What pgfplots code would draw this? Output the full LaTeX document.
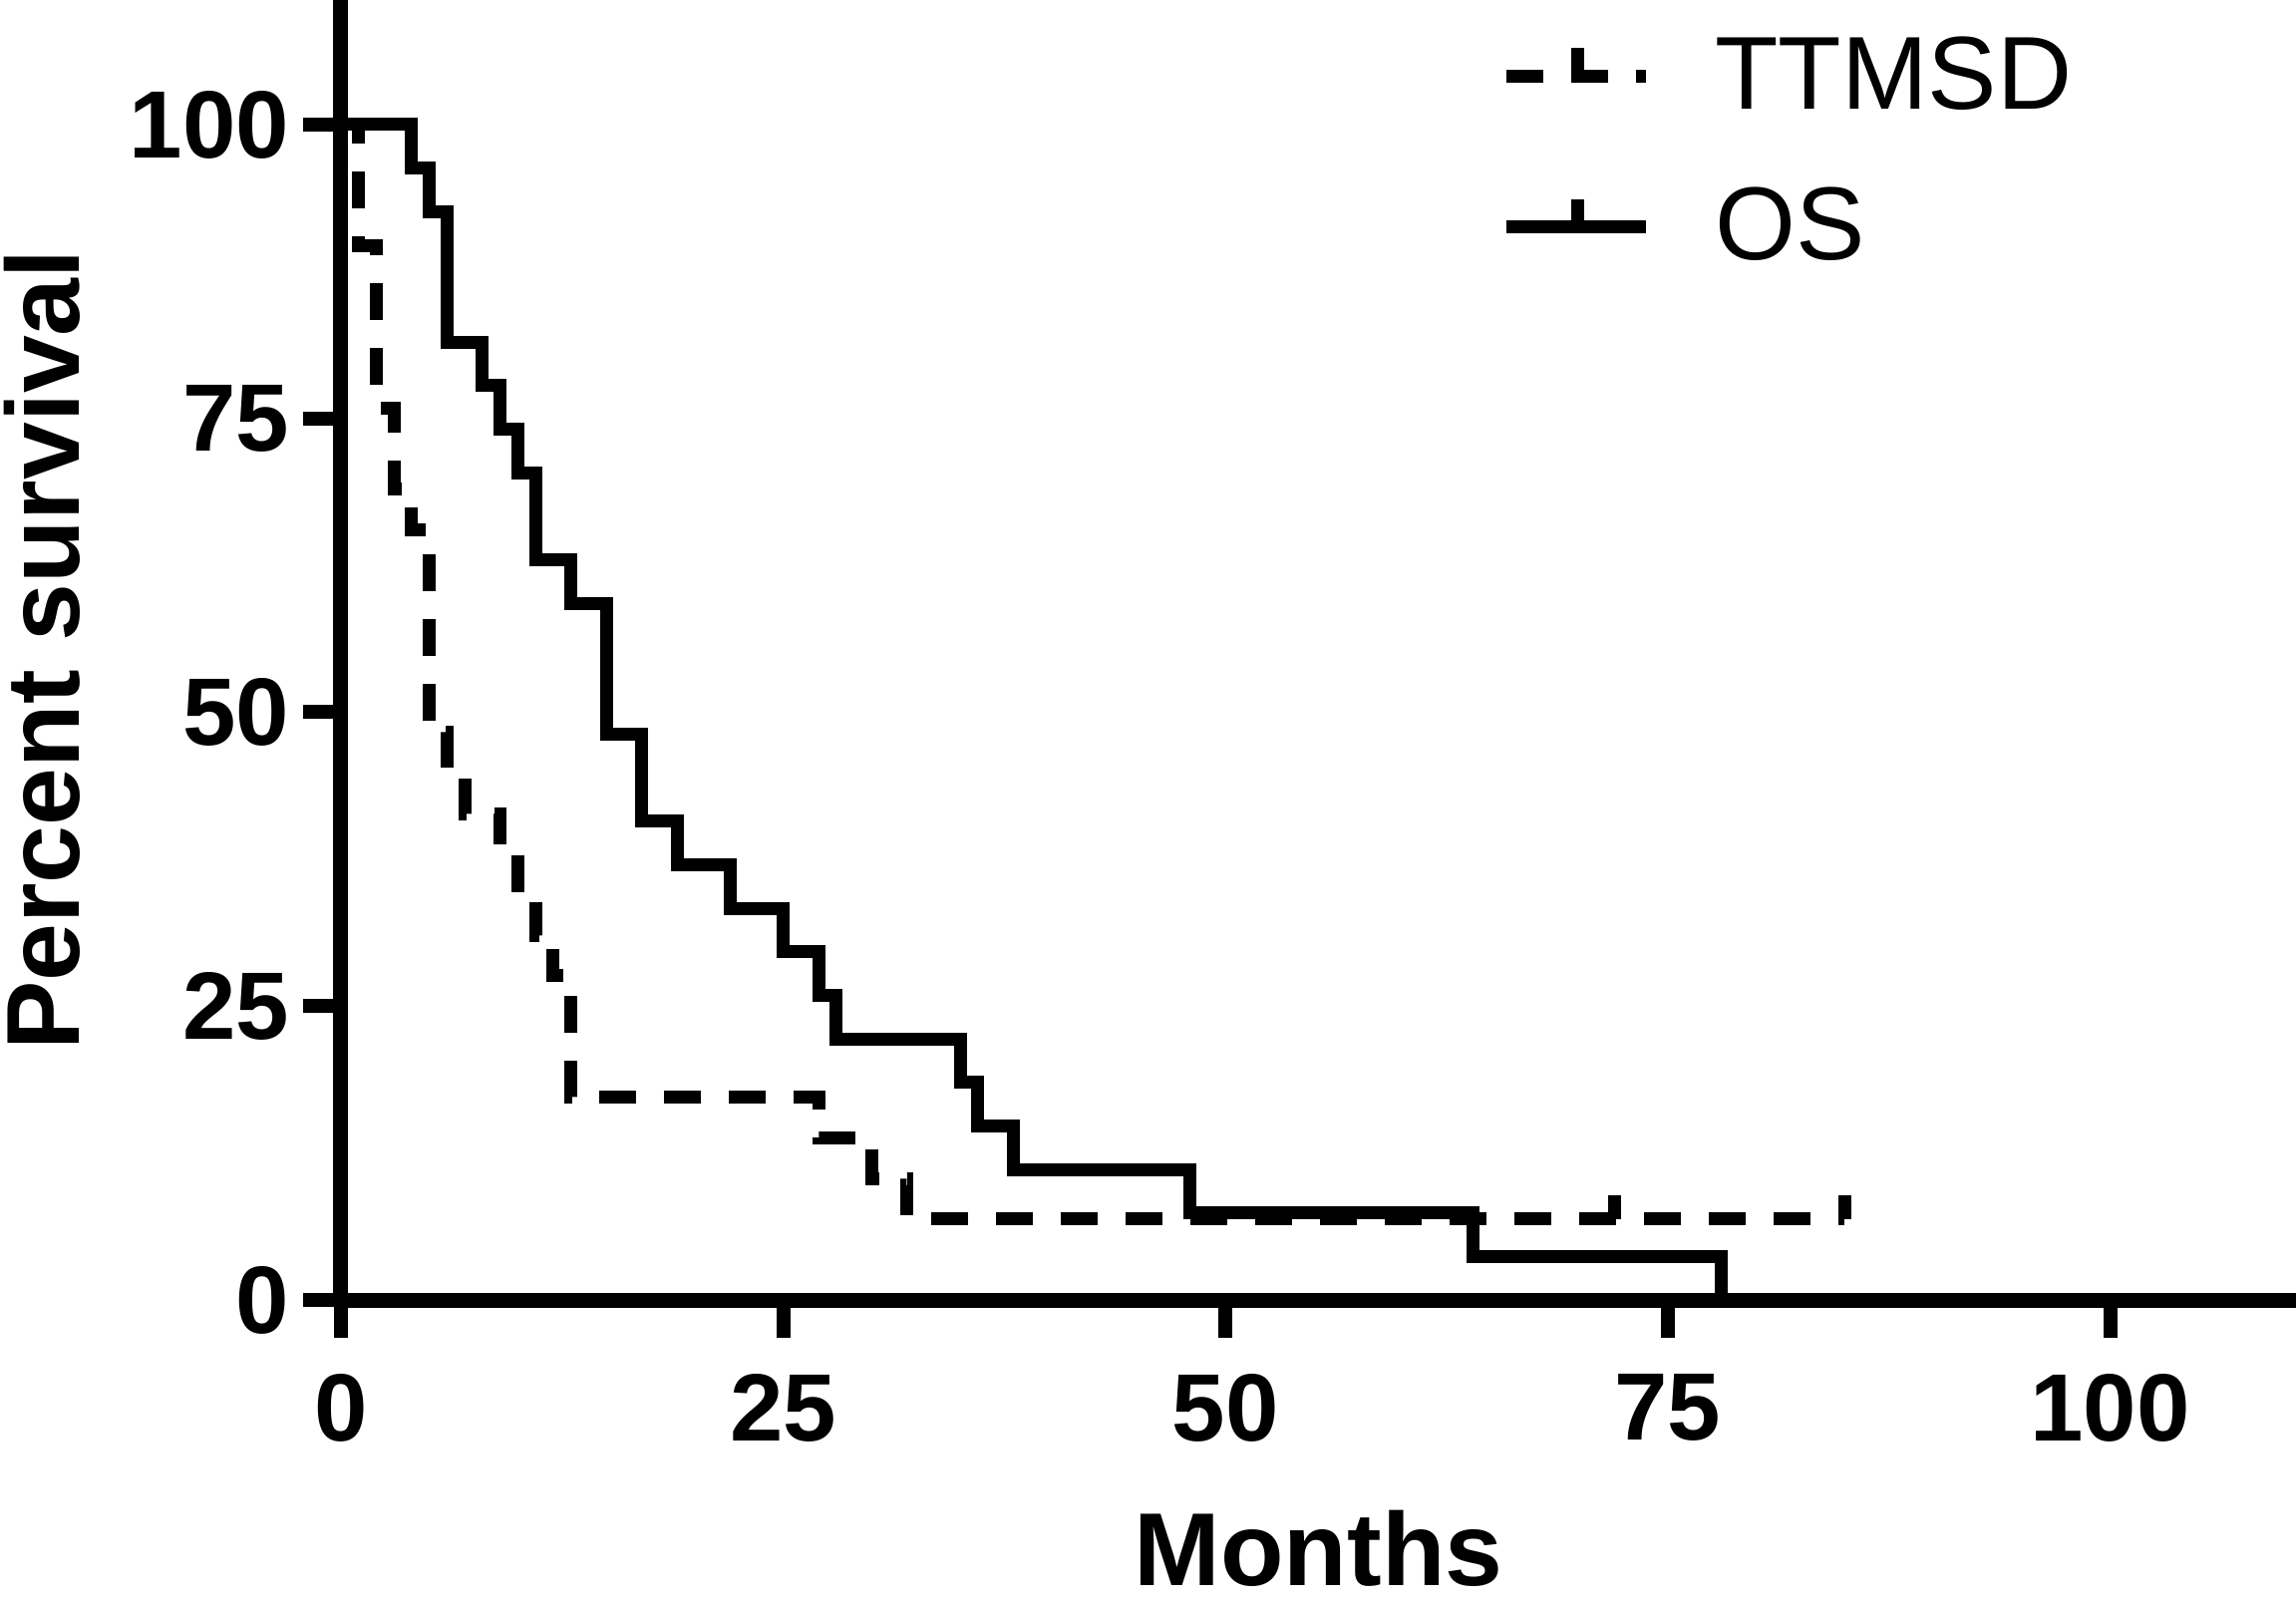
\documentclass[border=0pt]{standalone}
\usepackage{fontspec}
\setmainfont{Liberation Sans}
\usepackage{pgfplots}
\pgfplotsset{compat=1.18}
\pgfdeclareplotmark{censor}{\pgfpathmoveto{\pgfqpoint{0pt}{0pt}}\pgfpathlineto{\pgfqpoint{0pt}{6pt}}\pgfusepathqstroke}
\begin{document}
\begin{tikzpicture}
\begin{axis}[
  scale only axis, width=490.25pt, height=326pt,
  xmin=0, xmax=110.5, ymin=0, ymax=110.6,
  axis x line*=bottom, axis y line*=left,
  axis line style={line width=3.75pt, black},
  xtick={0,25,50,75,100}, ytick={0,25,50,75,100},
  tick align=outside, major tick length=9.5pt,
  major tick style={line width=3.5pt, black},
  minor tick num=0,
  /pgf/number format/assume math mode=true,
  ticklabel style={font=\fontsize{24}{24}\selectfont\bfseries},
  xticklabel style={yshift=-5.5pt},
  xlabel={Months}, ylabel={Percent survival},
  label style={font=\fontsize{26}{26}\selectfont\bfseries},
  xlabel shift=10.5pt, ylabel shift=5.5pt,
  clip=false,
  legend cell align=left,
  legend style={draw=none, fill=none, at={(axis cs:64.8,108.9)}, anchor=north west,
    font=\fontsize{26}{26}\selectfont, row sep=14.2pt,
    /tikz/every odd column/.append style={column sep=13.6pt}},
  legend image code/.code={\draw[#1] (0pt,0pt) -- (35pt,0pt);
     \draw[solid, line width=3.25pt] (17.75pt,0pt) -- (17.75pt,7pt);},
]
\addplot[const plot, black, line width=3.25pt, dash pattern=on 9.25pt off 7pt] coordinates {
(0,100)(1,89.66)(2,75.86)(3,68.97)(4,65.52)(5,48.28)(6,44.83)(7,41.38)(9,37.93)(10,34.48)(11,31.03)(12,27.59)(13,17.24)(27,13.79)(30,10.34)(32,6.90)(85,6.90)};
\addlegendentry{TTMSD}
\addplot[const plot, black, line width=3.25pt] coordinates {
(0,100)(4,96.30)(5,92.59)(6,81.48)(8,77.78)(9,74.07)(10,70.37)(11,62.96)(13,59.26)(15,48.15)(17,40.74)(19,37.04)(22,33.33)(25,29.63)(27,25.93)(28,22.22)(35,18.52)(36,14.81)(38,11.11)(48,7.41)(64,3.70)(78,0)};
\addlegendentry{OS}
\addplot[only marks, mark=censor, black, line width=3.25pt, forget plot] coordinates {(72,6.90)(85,6.90)};
\end{axis}
\pgfresetboundingbox
\path (-85.5pt,-75.75pt) rectangle (490.25pt,326pt);
\end{tikzpicture}
\end{document}
